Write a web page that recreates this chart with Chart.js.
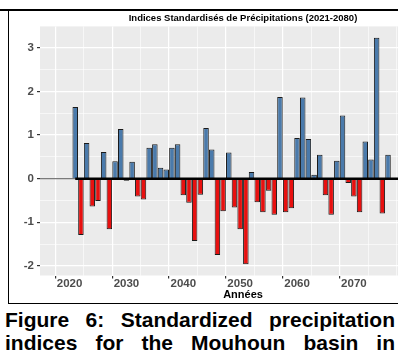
<!DOCTYPE html>
<html>
<head>
<meta charset="utf-8">
<script src="https://cdn.jsdelivr.net/npm/chart.js@4"></script>
<style>
  html, body { margin: 0; padding: 0; width: 398px; height: 363px; overflow: hidden; background: #fff; }
  #topline { position: absolute; left: 0; top: 9px; width: 398px; height: 2px; background: #000; }
  #box { position: absolute; left: 8px; top: 11px; width: 470px; height: 292px; border-left: 1px solid #000; border-bottom: 1.5px solid #000; }
  #myChart { position: absolute; left: 10px; top: 11px; }
  .caption { position: absolute; left: 5px; width: 390px; font: bold 21px 'Liberation Sans', Arial, sans-serif; line-height: 23px; text-align: justify; text-align-last: justify; color: #000; white-space: nowrap; }
</style>
</head>
<body>
<div id="topline"></div>
<div id="box"></div>
<canvas id="myChart" width="446" height="292"></canvas>
<div class="caption" style="top:308px">Figure 6: Standardized precipitation</div>
<div class="caption" style="top:331px">indices for the Mouhoun basin in</div>
<script>
const years = [
  2021, 2022, 2023, 2024, 2025, 2026, 2027, 2028, 2029, 2030,
  2031, 2032, 2033, 2034, 2035, 2036, 2037, 2038, 2039, 2040,
  2041, 2042, 2043, 2044, 2045, 2046, 2047, 2048, 2049, 2050,
  2051, 2052, 2053, 2054, 2055, 2056, 2057, 2058, 2059, 2060,
  2061, 2062, 2063, 2064, 2065, 2066, 2067, 2068, 2069, 2070,
  2071, 2072, 2073, 2074, 2075, 2076
]
const spi = [
  1.64, -1.29, 0.82, -0.64, -0.51, 0.61, -1.16, 0.40, 1.14, -0.05,
  0.39, -0.41, -0.48, 0.71, 0.79, 0.25, 0.21, 0.71, 0.79, -0.38,
  -0.55, -1.43, -0.37, 1.16, 0.67, -1.75, -0.75, 0.60, -0.66, -1.16,
  -1.96, 0.15, -0.54, -0.77, -0.28, -0.83, 1.87, -0.77, -0.68, 0.93,
  1.86, 0.91, 0.09, 0.55, -0.38, -0.83, 0.41, 1.45, -0.10, -0.41,
  -0.77, 0.85, 0.44, 3.23, -0.80, 0.55
]
const xTickLabels = [2020, 2030, 2040, 2050, 2060, 2070]
const yTickLabels = [-2, -1, 0, 1, 2, 3]
const periodEnd = 2080

const blue = '#4a7aab'
const red = '#e8100f'
const axisText = '#4d4d4d'
const font = "'Liberation Sans', Arial, sans-serif"

// grey ggplot-like panel behind the grid
const panelBg = {
  id: 'panelBg',
  beforeDraw (chart) {
    const { ctx, chartArea: a } = chart
    ctx.save()
    ctx.fillStyle = '#ebebeb'
    ctx.fillRect(a.left, a.top, a.width, a.height)
    ctx.restore()
  }
}

const tickValue = ctx => ctx.tick ? ctx.tick.value : NaN
const isMajor = (v, list) => list.some(l => Math.abs(l - v) < 1e-6)

const config = {
  data: {
    datasets: [
      {
        type: 'line',
        data: [{ x: years[0], y: 0 }, { x: periodEnd, y: 0 }],
        borderColor: '#000',
        borderWidth: 2.5,
        pointRadius: 0,
        order: 0
      },
      {
        type: 'bar',
        data: years.map((y, i) => ({ x: y, y: spi[i] })),
        backgroundColor: spi.map(v => v >= 0 ? blue : red),
        borderColor: '#1a1a1a',
        borderWidth: 1,
        barPercentage: 0.97,
        categoryPercentage: 1,
        order: 1
      }
    ]
  },
  options: {
    responsive: false,
    animation: false,
    layout: { padding: { left: 0, right: 10, top: 0, bottom: 0 } },
    plugins: {
      legend: { display: false },
      tooltip: { enabled: false },
      title: {
        display: true,
        text: 'Indices Standardisés de Précipitations (2021-2080)',
        color: '#000',
        fullSize: false,
        font: { family: font, size: 9.5, weight: 'bold', lineHeight: 1.2 },
        padding: { top: 2, bottom: 2 }
      }
    },
    scales: {
      x: {
        type: 'linear',
        min: 2017.55,
        max: 2083.45,
        border: { display: false },
        grid: {
          color: '#fff',
          lineWidth: ctx => isMajor(tickValue(ctx), xTickLabels) ? 1.2 : 0.6,
          tickColor: ctx => isMajor(tickValue(ctx), xTickLabels) ? '#333' : 'rgba(0,0,0,0)',
          tickLength: 3
        },
        ticks: {
          stepSize: 5,
          includeBounds: false,
          autoSkip: false,
          maxRotation: 0,
          padding: 0,
          color: axisText,
          font: { family: font, size: 11.5, weight: 'bold', lineHeight: 1 },
          callback: v => isMajor(v, xTickLabels) ? String(v) : ''
        },
        title: {
          display: true,
          text: 'Années',
          color: '#000',
          font: { family: font, size: 11, weight: 'bold', lineHeight: 1.1 },
          padding: { top: 0, bottom: 2 }
        },
        afterFit: scale => { scale.height = 27.5 }
      },
      y: {
        min: -2.22,
        max: 3.49,
        border: { display: false },
        grid: {
          color: ctx => tickValue(ctx) === 0 ? '#7a7a7a' : '#fff',
          lineWidth: ctx => isMajor(tickValue(ctx), yTickLabels) ? 1.2 : 0.6,
          tickColor: ctx => isMajor(tickValue(ctx), yTickLabels) ? '#333' : 'rgba(0,0,0,0)',
          tickLength: 3
        },
        ticks: {
          stepSize: 0.5,
          includeBounds: false,
          padding: 3,
          color: axisText,
          font: { family: font, size: 11.5, weight: 'bold' },
          callback: v => isMajor(v, yTickLabels) ? String(v) : ''
        },
        afterFit: scale => { scale.width = 30 }
      }
    }
  },
  plugins: [panelBg]
}

const myChart = new Chart(document.getElementById('myChart'), config)
</script>
</body>
</html>
